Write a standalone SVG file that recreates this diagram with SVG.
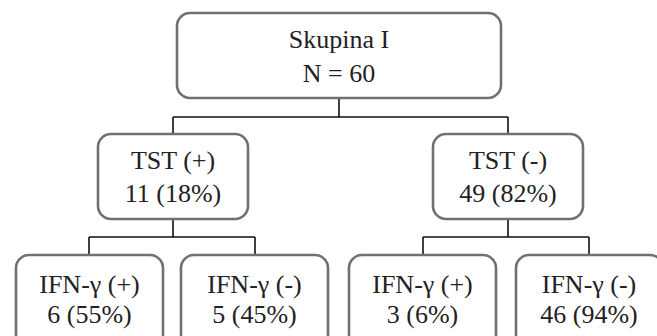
<svg xmlns="http://www.w3.org/2000/svg" width="657" height="336" viewBox="0 0 657 336">
<style>
.box{fill:#fff;stroke:#707070;stroke-width:2.6}
.t{font-family:'Liberation Serif','Times New Roman',serif;font-size:26px;fill:#222;text-anchor:middle}
.c{fill:none;stroke:#111;stroke-width:1.6}
</style>
<rect width="657" height="336" fill="#fff"/>
<g id="connectors">
<path class="c" d="M339 98V117M173 117H508M173 117V134M508 117V134"/>
<path class="c" d="M173 219V237M89 237H255M89 237V255M255 237V255"/>
<path class="c" d="M508 219V237M423 237H589M423 237V255M589 237V255"/>
</g>
<g id="root">
<rect class="box" x="177" y="13" width="324" height="85" rx="13"/>
<text class="t" x="339" y="48">Skupina I</text>
<text class="t" x="339" y="82">N = 60</text>
</g>
<g id="tst-pos">
<rect class="box" x="98" y="134" width="150" height="85" rx="13"/>
<text class="t" x="173" y="169">TST (+)</text>
<text class="t" x="173" y="202">11 (18%)</text>
</g>
<g id="tst-neg">
<rect class="box" x="433" y="134" width="150" height="85" rx="13"/>
<text class="t" x="508" y="169">TST (-)</text>
<text class="t" x="508" y="202">49 (82%)</text>
</g>
<g id="ifn-pos-1">
<rect class="box" x="16" y="255" width="147" height="95" rx="13"/>
<text class="t" x="89.5" y="293">IFN-γ (+)</text>
<text class="t" x="89.5" y="323">6 (55%)</text>
</g>
<g id="ifn-neg-1">
<rect class="box" x="181" y="255" width="147" height="95" rx="13"/>
<text class="t" x="254.5" y="293">IFN-γ (-)</text>
<text class="t" x="254.5" y="323">5 (45%)</text>
</g>
<g id="ifn-pos-2">
<rect class="box" x="349" y="255" width="147" height="95" rx="13"/>
<text class="t" x="422.5" y="293">IFN-γ (+)</text>
<text class="t" x="422.5" y="323">3 (6%)</text>
</g>
<g id="ifn-neg-2">
<rect class="box" x="516" y="255" width="147" height="95" rx="13"/>
<text class="t" x="589" y="293">IFN-γ (-)</text>
<text class="t" x="589" y="323">46 (94%)</text>
</g>
</svg>
